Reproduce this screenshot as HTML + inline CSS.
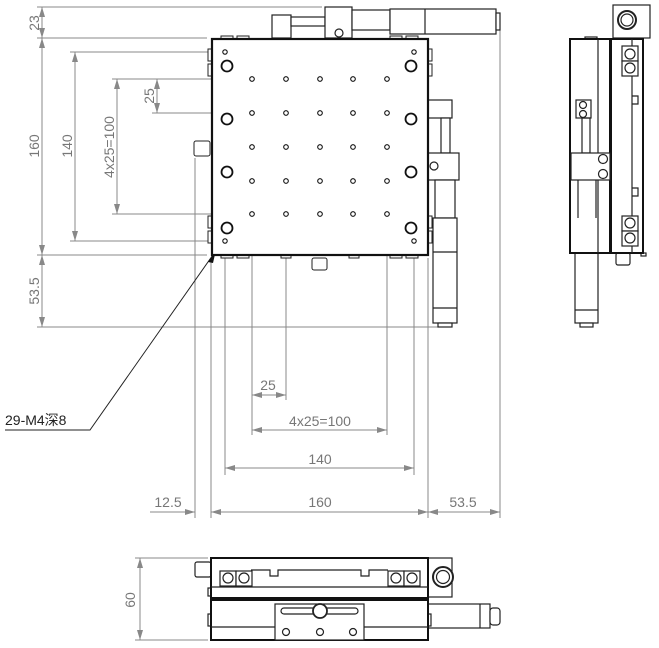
<!DOCTYPE html>
<html><head><meta charset="utf-8"><style>
html,body{margin:0;padding:0;background:#fff;}
svg{display:block;}
.d{stroke:#888;stroke-width:1;fill:none}
.k{stroke:#222;stroke-width:1.2;fill:#fff}
.kb{stroke:#111;stroke-width:2;fill:#fff}
.t{font-family:"Liberation Sans","Noto Sans CJK SC",sans-serif;font-size:14px;fill:#777}
</style></head><body>
<svg width="659" height="648" viewBox="0 0 659 648" xmlns="http://www.w3.org/2000/svg">
<defs>
<marker id="a" viewBox="0 0 10 6" refX="10" refY="3" markerWidth="10" markerHeight="6" orient="auto-start-reverse" markerUnits="userSpaceOnUse"><path d="M0,0L10,3L0,6z" fill="#888"/></marker>
</defs>
<!-- extension lines -->
<g class="d">
<line x1="37" y1="7" x2="322" y2="7"/>
<line x1="37" y1="38" x2="207" y2="38"/>
<line x1="70" y1="52" x2="222" y2="52"/>
<line x1="112" y1="79" x2="248" y2="79"/>
<line x1="152" y1="113" x2="248" y2="113"/>
<line x1="112" y1="214" x2="248" y2="214"/>
<line x1="70" y1="241" x2="222" y2="241"/>
<line x1="37" y1="255" x2="207" y2="255"/>
<line x1="37" y1="327" x2="445" y2="327"/>
<line x1="195" y1="158" x2="195" y2="518"/>
<line x1="211" y1="258" x2="211" y2="518"/>
<line x1="225" y1="245" x2="225" y2="475"/>
<line x1="252" y1="218" x2="252" y2="435"/>
<line x1="286" y1="218" x2="286" y2="400"/>
<line x1="387" y1="218" x2="387" y2="435"/>
<line x1="414" y1="245" x2="414" y2="475"/>
<line x1="428" y1="258" x2="428" y2="518"/>
<line x1="500" y1="22" x2="500" y2="518"/>
<line x1="135" y1="558" x2="208" y2="558"/>
<line x1="135" y1="640" x2="208" y2="640"/>
</g>
<!-- dimension lines -->
<g class="d" marker-start="url(#a)" marker-end="url(#a)">
<line x1="42" y1="7" x2="42" y2="38"/>
<line x1="42" y1="38" x2="42" y2="255"/>
<line x1="42" y1="255" x2="42" y2="327"/>
<line x1="75" y1="52" x2="75" y2="241"/>
<line x1="117" y1="79" x2="117" y2="214"/>
<line x1="157" y1="79" x2="157" y2="113"/>
<line x1="252" y1="395" x2="286" y2="395"/>
<line x1="252" y1="430" x2="387" y2="430"/>
<line x1="225" y1="468" x2="414" y2="468"/>
<line x1="211" y1="512" x2="428" y2="512"/>
<line x1="428" y1="512" x2="500" y2="512"/>
<line x1="140" y1="558" x2="140" y2="640"/>
</g>
<g class="d"><line x1="150" y1="512" x2="195" y2="512" marker-end="url(#a)"/><line x1="211" y1="512" x2="211" y2="512"/></g>
<!-- dim labels -->
<g class="t">
<text transform="translate(39,23) rotate(-90)" text-anchor="middle">23</text>
<text transform="translate(39,146) rotate(-90)" text-anchor="middle">160</text>
<text transform="translate(72,146) rotate(-90)" text-anchor="middle">140</text>
<text transform="translate(114,147) rotate(-90)" text-anchor="middle">4x25=100</text>
<text transform="translate(154,96) rotate(-90)" text-anchor="middle">25</text>
<text transform="translate(39,291) rotate(-90)" text-anchor="middle">53.5</text>
<text transform="translate(135,600) rotate(-90)" text-anchor="middle">60</text>
<text x="268" y="390" text-anchor="middle">25</text>
<text x="320" y="426" text-anchor="middle">4x25=100</text>
<text x="320" y="464" text-anchor="middle">140</text>
<text x="168" y="507" text-anchor="middle">12.5</text>
<text x="320" y="507" text-anchor="middle">160</text>
<text x="463" y="507" text-anchor="middle">53.5</text>
</g>
<!-- leader -->
<polyline points="215,252 90,430 5,430" fill="none" stroke="#222" stroke-width="1"/>
<path d="M216,250 L208,262 L213,263z" fill="#111"/>
<text x="5" y="425" font-family="Liberation Sans,'Noto Sans CJK SC',sans-serif" font-size="14" fill="#222">29-M4深8</text>

<!-- TOP VIEW -->
<!-- top micrometer -->
<g class="k">
<rect x="272" y="15" width="19" height="23"/>
<rect x="291" y="17" width="34" height="9"/>
<rect x="325" y="7" width="27" height="31"/>
<circle cx="339" cy="33" r="4"/>
<rect x="352" y="10" width="38" height="20"/>
<rect x="390" y="9" width="106" height="25"/>
<line x1="425" y1="9" x2="425" y2="34"/>
<rect x="496" y="13" width="4" height="17"/>
</g>
<!-- right micrometer -->
<g class="k">
<rect x="428" y="100" width="24" height="18"/>
<rect x="441" y="118" width="9" height="35"/>
<rect x="428" y="153" width="31" height="27"/>
<circle cx="434" cy="166" r="4"/>
<rect x="435" y="180" width="20" height="38"/>
<rect x="433" y="218" width="24" height="105"/>
<line x1="433" y1="252" x2="457" y2="252"/>
<line x1="433" y1="308" x2="457" y2="308"/>
<rect x="438" y="323" width="14" height="4"/>
</g>
<!-- side tabs -->
<g stroke="#222" stroke-width="1" fill="#fff">
<rect x="208" y="49" width="4" height="12"/><rect x="208" y="64" width="4" height="12"/>
<rect x="208" y="216" width="4" height="12"/><rect x="208" y="231" width="4" height="12"/>
<rect x="428" y="49" width="4" height="12"/><rect x="428" y="64" width="4" height="12"/>
<rect x="428" y="216" width="4" height="12"/><rect x="428" y="231" width="4" height="12"/>
<rect x="221" y="36" width="12" height="3"/><rect x="237" y="36" width="12" height="3"/>
<rect x="390" y="36" width="12" height="3"/><rect x="406" y="36" width="12" height="3"/>
<rect x="221" y="255" width="12" height="3"/><rect x="237" y="255" width="12" height="3"/>
<rect x="281" y="255" width="10" height="3"/><rect x="349" y="255" width="10" height="3"/>
<rect x="390" y="255" width="12" height="3"/><rect x="406" y="255" width="12" height="3"/>
<rect x="194" y="141" width="16" height="15" rx="2"/>
<rect x="312" y="258" width="15" height="12" rx="2"/>
</g>
<rect x="212" y="39" width="216" height="216" fill="#fff" stroke="#111" stroke-width="2.2"/>
<g stroke="#111" stroke-width="1.1" fill="#fff">
<circle cx="225" cy="52" r="2.2"/><circle cx="414" cy="52" r="2.2"/>
<circle cx="225" cy="241" r="2.2"/><circle cx="414" cy="241" r="2.2"/>
</g>
<g stroke="#111" stroke-width="1.8" fill="#fff">
<circle cx="227" cy="66" r="5.5"/><circle cx="411" cy="66" r="5.5"/>
<circle cx="227" cy="119" r="5.5"/><circle cx="411" cy="119" r="5.5"/>
<circle cx="227" cy="172" r="5.5"/><circle cx="411" cy="172" r="5.5"/>
<circle cx="227" cy="228" r="5.5"/><circle cx="411" cy="228" r="5.5"/>
</g>
<g stroke="#111" stroke-width="1.1" fill="#fff">
<circle cx="252" cy="79" r="2.3"/><circle cx="286" cy="79" r="2.3"/><circle cx="320" cy="79" r="2.3"/><circle cx="353" cy="79" r="2.3"/><circle cx="387" cy="79" r="2.3"/>
<circle cx="252" cy="113" r="2.3"/><circle cx="286" cy="113" r="2.3"/><circle cx="320" cy="113" r="2.3"/><circle cx="353" cy="113" r="2.3"/><circle cx="387" cy="113" r="2.3"/>
<circle cx="252" cy="147" r="2.3"/><circle cx="286" cy="147" r="2.3"/><circle cx="320" cy="147" r="2.3"/><circle cx="353" cy="147" r="2.3"/><circle cx="387" cy="147" r="2.3"/>
<circle cx="252" cy="181" r="2.3"/><circle cx="286" cy="181" r="2.3"/><circle cx="320" cy="181" r="2.3"/><circle cx="353" cy="181" r="2.3"/><circle cx="387" cy="181" r="2.3"/>
<circle cx="252" cy="214" r="2.3"/><circle cx="286" cy="214" r="2.3"/><circle cx="320" cy="214" r="2.3"/><circle cx="353" cy="214" r="2.3"/><circle cx="387" cy="214" r="2.3"/>
</g>

<!-- SIDE VIEW -->
<g class="k">
<rect x="613" y="5" width="37" height="33"/>
<circle cx="627" cy="20" r="9" stroke-width="2"/><circle cx="627" cy="20" r="6"/>
<rect x="585" y="37" width="12" height="3"/>
<rect x="575" y="218" width="23" height="105"/>
<line x1="575" y1="248" x2="598" y2="248"/>
<line x1="575" y1="310" x2="598" y2="310"/>
<rect x="580" y="323" width="13" height="4"/>
<rect x="616" y="253" width="14" height="12" rx="2"/>
<rect x="641" y="253" width="5" height="3"/>
</g>
<rect x="570" y="39" width="40" height="214" fill="#fff" stroke="#111" stroke-width="2"/>
<rect x="611" y="39" width="32" height="214" fill="#fff" stroke="#111" stroke-width="2"/>
<g class="k">
<line x1="598" y1="39" x2="598" y2="253"/>
<line x1="632" y1="39" x2="632" y2="253"/>
<rect x="622" y="46" width="16" height="15"/><circle cx="630" cy="54" r="5"/>
<rect x="622" y="61" width="16" height="15"/><circle cx="630" cy="68" r="5"/>
<polyline points="632,96 638,96 638,104 632,104" fill="none"/>
<polyline points="632,188 638,188 638,196 632,196" fill="none"/>
<rect x="622" y="216" width="16" height="15"/><circle cx="630" cy="223" r="5"/>
<rect x="622" y="231" width="16" height="15"/><circle cx="630" cy="238" r="5"/>
<rect x="576" y="100" width="15" height="18"/><circle cx="583" cy="105" r="3.5"/><circle cx="583" cy="114" r="3.5"/>
<rect x="582" y="118" width="8" height="35" fill="none"/>
<rect x="571" y="153" width="39" height="27"/>
<circle cx="603" cy="159" r="4.5"/><circle cx="603" cy="174" r="4.5"/>
<line x1="578" y1="180" x2="578" y2="218"/><line x1="596" y1="180" x2="596" y2="218"/>
</g>

<!-- BOTTOM VIEW -->
<g class="k">
<rect x="195" y="562" width="16" height="15" rx="2"/>
<rect x="428" y="558" width="24" height="39"/>
<circle cx="443" cy="577" r="10" stroke-width="2"/><circle cx="443" cy="577" r="6.5"/>
<rect x="428" y="604" width="62" height="24"/>
<line x1="480" y1="604" x2="480" y2="628"/>
<rect x="490" y="608" width="10" height="17" rx="3"/>
<rect x="208" y="588" width="3" height="8"/><rect x="208" y="614" width="3" height="12"/><rect x="428" y="614" width="3" height="12"/>
</g>
<rect x="211" y="558" width="217" height="40" fill="#fff" stroke="#111" stroke-width="2"/>
<rect x="211" y="600" width="217" height="40" fill="#fff" stroke="#111" stroke-width="2"/>
<g class="k">
<polyline points="251,570 270,570 270,576 278,576 278,570 361,570 361,576 369,576 369,570 388,570" fill="none"/>
<line x1="211" y1="587" x2="428" y2="587"/>
<line x1="211" y1="627" x2="428" y2="627"/>
<rect x="220" y="571" width="16" height="15"/><circle cx="228" cy="578" r="5"/>
<rect x="236" y="571" width="16" height="15"/><circle cx="244" cy="578" r="5"/>
<rect x="388" y="571" width="16" height="15"/><circle cx="396" cy="578" r="5"/>
<rect x="404" y="571" width="16" height="15"/><circle cx="412" cy="578" r="5"/>
<rect x="275" y="604" width="89" height="36"/>
<rect x="281" y="608" width="77" height="6" rx="3"/>
<circle cx="320" cy="611" r="7" stroke-width="1.8"/>
<circle cx="286" cy="632" r="3.5"/><circle cx="320" cy="632" r="3.5"/><circle cx="353" cy="632" r="3.5"/>
</g>
</svg>
</body></html>
